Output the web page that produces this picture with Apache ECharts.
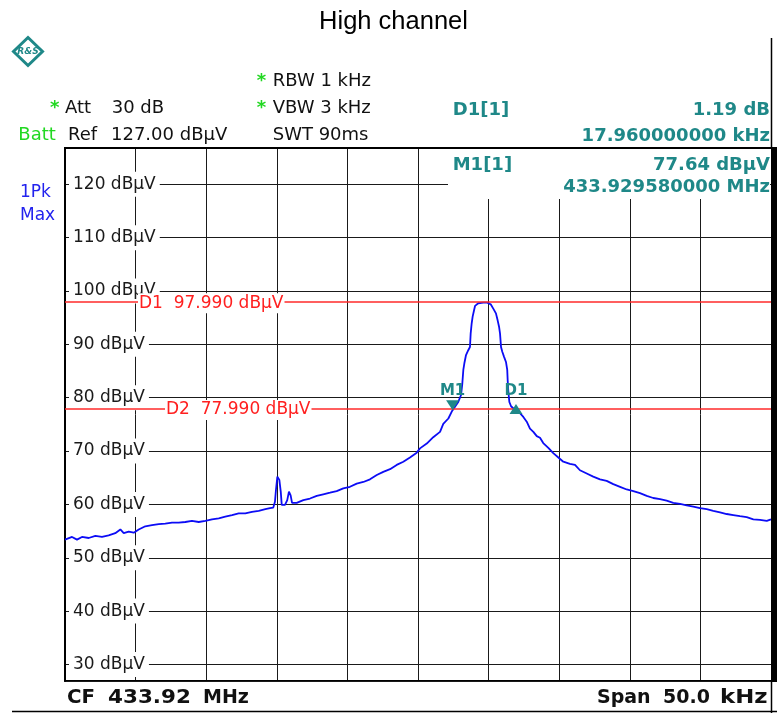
<!DOCTYPE html>
<html><head><meta charset="utf-8">
<script src="https://cdn.jsdelivr.net/npm/echarts@6/dist/echarts.min.js"></script>
<style>html,body{margin:0;padding:0;background:#fff;}#c{width:777px;height:713px;}</style>
</head><body><div id="c"></div>
<script>
// Trace: frequency offset from start of span (kHz) and level (dBµV)
const freqKHz = [0,0.5,0.85,1.2,1.68,2.15,2.62,3.09,3.56,3.92,4.16,4.51,4.87,5.22,5.69,6.16,6.64,7.1,7.58,8.05,8.52,8.99,9.47,9.94,10.41,10.89,11.35,11.83,12.3,12.77,13.24,13.72,14.19,14.52,14.75,14.87,14.94,15.04,15.18,15.28,15.35,15.58,15.74,15.86,15.98,16.08,16.41,16.88,17.35,17.83,18.29,18.77,19.24,19.71,20.18,20.66,21.13,21.6,22.08,22.54,23.02,23.49,23.96,24.43,24.91,25.14,25.62,26.08,26.56,26.79,27.15,27.39,27.62,27.85,28.05,28.14,28.21,28.28,28.4,28.56,28.68,28.73,28.8,28.87,28.97,29.04,29.27,29.62,29.91,30.15,30.33,30.52,30.64,30.74,30.81,30.88,30.97,31.09,31.23,31.32,31.35,31.39,31.47,31.59,31.87,32.22,32.46,32.7,32.93,33.17,33.41,33.64,33.87,34.23,34.58,34.94,35.29,35.76,36.12,36.47,36.95,37.41,37.89,38.36,38.83,39.31,39.78,40.25,40.72,41.2,41.66,42.14,42.61,43.08,43.56,44.03,44.5,44.97,45.45,45.91,46.39,46.86,47.33,47.8,48.28,48.75,49.22,49.7,50];
const levelDbuV = [53.4,53.9,53.4,53.9,53.7,54.1,53.9,54.2,54.6,55.3,54.6,54.9,54.7,55.3,55.9,56.1,56.3,56.4,56.6,56.6,56.7,56.9,56.7,56.9,57.2,57.4,57.7,58.0,58.3,58.3,58.6,58.8,59.1,59.3,59.4,60.5,62.7,65.2,64.6,62.4,59.9,59.9,60.8,62.4,61.7,60.3,60.3,60.8,61.1,61.6,61.9,62.2,62.5,63.0,63.3,63.9,64.2,64.7,65.5,66.1,66.6,67.4,68.0,68.8,69.7,70.5,71.4,72.6,73.6,75.1,76.1,77.4,78.3,79.2,80.5,82.7,85.2,86.4,88.0,88.9,89.5,92.0,93.9,95.2,96.4,97.2,97.7,97.8,97.8,97.5,96.7,95.8,94.5,93.3,92.0,89.5,88.6,87.7,86.7,85.2,83.3,81.4,79.2,78.4,77.7,77.1,76.4,75.5,74.2,73.6,72.8,72.5,71.5,70.6,69.6,68.8,68.0,67.6,67.4,66.4,65.8,65.2,64.7,64.4,63.8,63.3,62.8,62.5,62.1,61.6,61.2,61.0,60.7,60.3,60.1,59.8,59.6,59.3,59.1,58.8,58.5,58.2,58.0,57.8,57.6,57.2,57.1,56.9,57.2];
const yTickLabels = [30,40,50,60,70,80,90,100,110,120];
const refLineNames = ['D1','D2'];
const refLineLevels = [97.99, 77.99];
const markerNames = ['M1','D1'];
const markerFreqKHz = [27.45, 31.94];
const markerLevels = [77.64, 78.83];

const TEAL = '#1f8888', GREEN = '#22d822', BLUE = '#2222ee';
const chart = echarts.init(document.getElementById('c'), null, {renderer:'canvas'});

const option = {
  animation: false,
  backgroundColor: '#fff',
  grid: {left: 65, right: 6, top: 148, bottom: 32, containLabel: false},
  xAxis: {
    type: 'value', min: 0, max: 50, interval: 5, z: 1,
    axisLine: {show: true, onZero: false, lineStyle: {color: '#000', width: 2}},
    axisTick: {show: false}, axisLabel: {show: false},
    splitLine: {show: true, lineStyle: {color: '#1a1a1a', width: 1}}
  },
  yAxis: {
    type: 'value', min: 26.9, max: 126.8, splitNumber: 10, z: 3,
    axisLine: {show: true, onZero: false, lineStyle: {color: '#000', width: 2}},
    axisTick: {show: false},
    splitLine: {show: true, lineStyle: {color: '#1a1a1a', width: 1}},
    axisLabel: {
      inside: true, margin: 4, showMinLabel: false, showMaxLabel: false,
      formatter: function (v) {
        const r = Math.round(v);
        return (Math.abs(v - r) < 1e-6 && yTickLabels.indexOf(r) >= 0) ? r + ' dBµV' : '';
      },
      color: '#1a1a1a', fontSize: 17, fontFamily: 'DejaVu Sans',
      backgroundColor: '#fff', padding: [4, 4, 4, 4]
    }
  },
  series: [
    {
      type: 'line', z: 4, symbol: 'none', showSymbol: false,
      data: freqKHz.map((f, i) => [f, levelDbuV[i]]),
      lineStyle: {color: '#0c0cf5', width: 1.8},
      markLine: {
        silent: true, symbol: ['none', 'none'], label: {show: false}, animation: false,
        lineStyle: {color: '#ff2a2a', width: 1.5, type: 'solid'},
        data: refLineLevels.map(v => ({yAxis: v}))
      }
    },
    {
      type: 'scatter', z: 6,
      data: markerNames.map((n, i) => ({
        name: n, value: [markerFreqKHz[i], markerLevels[i]],
        symbol: i === 0 ? 'path://M0,0L10,0L5,7Z' : 'triangle',
        symbolSize: [13, 10],
        symbolOffset: i === 0 ? [0, -5] : [0, 5],
        label: {distance: i === 0 ? 2 : 5}
      })),
      itemStyle: {color: TEAL, opacity: 1},
      label: {show: true, position: 'top', formatter: p => p.name, color: TEAL,
              fontWeight: 'bold', fontSize: 15, fontFamily: 'DejaVu Sans'}
    }
  ]
};
chart.setOption(option);

function txt(text, x, y, st, el) {
  return Object.assign({
    type: 'text', z: 20, x: x, y: y,
    style: Object.assign({text: text, x: 0, y: 0, fill: '#111', font: '18px "DejaVu Sans"',
      align: 'left', textAlign: 'left', verticalAlign: 'middle', textVerticalAlign: 'middle'}, st || {})
  }, el || {});
}
const R = {align: 'right', textAlign: 'right'};
const tealB = {fill: TEAL, font: 'bold 18px "DejaVu Sans"'};
const foot = {fill: '#111', font: 'bold 19px "DejaVu Sans"'};

const els = [];
// boxes / borders
els.push({type: 'rect', z: 10, shape: {x: 448, y: 149, width: 322, height: 50}, style: {fill: '#fff'}});
els.push({type: 'line', z: 12, shape: {x1: 64, y1: 148, x2: 772, y2: 148}, style: {stroke: '#000', lineWidth: 2}});
els.push({type: 'rect', z: 12, shape: {x: 771, y: 147, width: 6, height: 535}, style: {fill: '#000'}});
els.push({type: 'line', z: 12, shape: {x1: 771.5, y1: 38, x2: 771.5, y2: 148}, style: {stroke: '#000', lineWidth: 1.5}});
els.push({type: 'line', z: 12, shape: {x1: 771.5, y1: 681, x2: 771.5, y2: 713}, style: {stroke: '#000', lineWidth: 1.5}});
els.push({type: 'line', z: 12, shape: {x1: 12, y1: 711.5, x2: 777, y2: 711.5}, style: {stroke: '#000', lineWidth: 1.5}});
// logo
els.push({type: 'polygon', z: 12, shape: {points: [[28, 37.5], [42.5, 51.5], [28, 65.5], [13.5, 51.5]]}, style: {fill: '#fff', stroke: TEAL, lineWidth: 3}});
els.push(txt('R&S', 28, 52, {fill: TEAL, font: 'italic bold 9px "DejaVu Sans"', align: 'center', textAlign: 'center'}));
// title
els.push(txt('High channel', 393.5, 22, {fill: '#000', font: '25.5px "Liberation Sans"', align: 'center', textAlign: 'center'}));
// header
els.push(txt('*', 50, 108.3, {fill: GREEN, font: 'bold 18px "DejaVu Sans"'}));
els.push(txt('Att', 65, 108.3));
els.push(txt('30 dB', 111.7, 108.3));
els.push(txt('Batt', 18.3, 135.5, {fill: GREEN}));
els.push(txt('Ref', 68, 135.5));
els.push(txt('127.00 dBµV', 111, 135.5));
els.push(txt('*', 256.7, 81, {fill: GREEN, font: 'bold 18px "DejaVu Sans"'}));
els.push(txt('RBW 1 kHz', 272.7, 81));
els.push(txt('*', 256.7, 108.3, {fill: GREEN, font: 'bold 18px "DejaVu Sans"'}));
els.push(txt('VBW 3 kHz', 272.7, 108.3));
els.push(txt('SWT 90ms', 272.7, 135.5));
// marker info
els.push(txt('D1[1]', 452.7, 110.5, tealB));
els.push(txt('1.19 dB', 770, 110.5, Object.assign({}, tealB, R)));
els.push(txt('17.960000000 kHz', 770, 136.5, Object.assign({}, tealB, R)));
els.push(txt('M1[1]', 452.7, 165.5, tealB));
els.push(txt('77.64 dBµV', 770, 165.5, Object.assign({}, tealB, R)));
els.push(txt('433.929580000 MHz', 770, 187.1, Object.assign({}, tealB, R)));
// trace info
els.push(txt('1Pk', 20, 193, {fill: BLUE, font: '17px "DejaVu Sans"'}));
els.push(txt('Max', 20, 216, {fill: BLUE, font: '17px "DejaVu Sans"'}));
// footer
els.push(txt('CF', 67, 698, foot, {scaleX: 1.04}));
els.push(txt('433.92', 108, 698, foot, {scaleX: 1.13}));
els.push(txt('MHz', 203, 698, foot));
els.push(txt('Span', 597, 698, foot));
els.push(txt('50.0', 663, 698, foot));
els.push(txt('kHz', 720, 698, foot, {scaleX: 1.2}));
// reference line labels
const refLabelX = [138, 165];
refLineLevels.forEach((v, i) => {
  const py = chart.convertToPixel({yAxisIndex: 0}, v);
  els.push(txt(refLineNames[i] + '  ' + v.toFixed(3) + ' dBµV', refLabelX[i], py + 1.5,
    {fill: '#ff2020', font: '17px "DejaVu Sans"', backgroundColor: '#fff', padding: [2, 1, 1, 1]}));
});
chart.setOption({graphic: {elements: els}});
</script></body></html>
